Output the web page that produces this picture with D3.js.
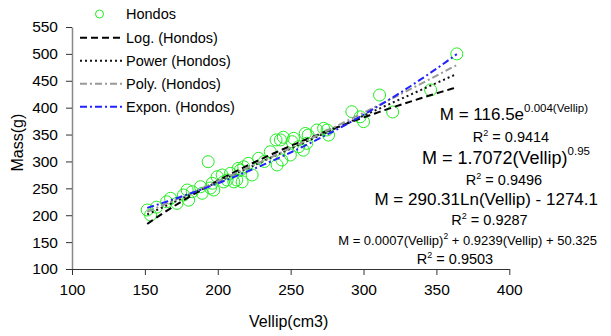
<!DOCTYPE html>
<html>
<head>
<meta charset="utf-8">
<title>Hondos mass vs vellip</title>
<script src="https://d3js.org/d3.v7.min.js"></script>
<style>
    body { margin: 0; background: #fff; }
    svg text { font-family: "Liberation Sans", Arial, sans-serif; fill: #000; }
    .axis text { font-size: 15.5px; }
    .axis .tick line { stroke: #333; }
    .x.axis .domain { stroke: #333; }
    .y.axis .domain { stroke: #888; stroke-width: 1.5px; }
    .pt { fill: none; stroke: #22ee22; stroke-width: 1px; }
    .trend { fill: none; stroke-width: 2px; }
    .log { stroke: #000; stroke-dasharray: 7 4; }
    .power { stroke: #111; stroke-dasharray: 2 3; }
    .poly { stroke: #999; stroke-dasharray: 7 3 2 3; }
    .expon { stroke: #2222ff; stroke-dasharray: 7 3 2 3; }
</style>
</head>
<body>
<script>
    let width = 611;
    let height = 336;
    let margin = { top: 27, right: 102, bottom: 67, left: 72 };

    // measured points (Vellip cm3, Mass g)
    let vellip = [151.6, 153.9, 158, 164.9, 167.6, 172, 176.5, 179, 180, 182.5,
        188.2, 189.3, 193.4, 195, 196.2, 197.3, 199.6, 203, 204, 206.4,
        208.7, 211, 213, 214, 215.5, 216.7, 217.8, 221, 223.6, 228,
        232, 236, 240.7, 240, 243, 244, 245, 249.8, 251, 252,
        255.5, 258.7, 260, 261, 262, 268, 272.6, 275, 276, 292,
        297.7, 300, 311, 320, 346, 364];
    let mass = [209.7, 200.4, 215, 225, 231.5, 222, 237.6, 246.9, 228, 243.7,
        253, 240.8, 299.5, 250.6, 259.4, 246.9, 271.6, 274.8, 262, 265.5,
        278, 262, 265.5, 287, 284, 262, 290, 296.5, 274.8, 305.8,
        300, 318, 293.4, 340, 340, 302.7, 345, 312, 336.7, 343,
        327.4, 321, 352, 333.7, 349, 358.5, 361.6, 358.5, 349, 392.5,
        383, 374, 423.5, 392, 433, 500];

    let xTicks = [100, 150, 200, 250, 300, 350, 400];
    let yTicks = [100, 150, 200, 250, 300, 350, 400, 450, 500, 550];
    let legendNames = ["Hondos", "Log. (Hondos)", "Power (Hondos)", "Poly. (Hondos)", "Expon. (Hondos)"];
    let trendClasses = ["log", "power", "poly", "expon"];

    // trendline coefficients as printed on the chart
    let expCoef = [116.5, 0.004];
    let powCoef = [1.7072, 0.95];
    let logCoef = [290.31, -1274.1];
    let polyCoef = [0.0007, 0.9239, 50.325];
    let rSquared = [0.9414, 0.9496, 0.9287, 0.9503];

    let data = vellip.map((v, i) => ({ v: v, m: mass[i] }));

    let svg = d3.select("body").append("svg")
        .attr("width", width)
        .attr("height", height);

    let x = d3.scaleLinear().domain([100, 400]).range([margin.left, width - margin.right + 0.3]);
    let y = d3.scaleLinear().domain([100, 550]).range([height - margin.bottom, margin.top]);

    // axes
    svg.append("g")
        .attr("class", "y axis")
        .attr("transform", "translate(" + margin.left + ",0)")
        .call(d3.axisLeft(y).tickValues(yTicks).tickSize(6).tickSizeOuter(0).tickPadding(8));

    svg.append("g")
        .attr("class", "x axis")
        .attr("transform", "translate(0," + (height - margin.bottom) + ")")
        .call(d3.axisBottom(x).tickValues(xTicks).tickSize(6).tickSizeOuter(0).tickPadding(9));

    svg.append("text")
        .attr("x", x(250) - 2)
        .attr("y", 327)
        .attr("text-anchor", "middle")
        .style("font-size", "16px")
        .text("Vellip(cm3)");

    svg.append("text")
        .attr("transform", "translate(23," + y(335) + ") rotate(-90)")
        .attr("text-anchor", "middle")
        .style("font-size", "16px")
        .text("Mass(g)");

    // trendlines
    let fns = [
        v => logCoef[0] * Math.log(v) + logCoef[1],
        v => powCoef[0] * Math.pow(v, powCoef[1]),
        v => polyCoef[0] * v * v + polyCoef[1] * v + polyCoef[2],
        v => expCoef[0] * Math.exp(expCoef[1] * v)
    ];
    let ext = d3.extent(vellip);
    let samples = d3.range(ext[0], ext[1] + 0.001, (ext[1] - ext[0]) / 60);

    let line = d3.line().x(d => x(d[0])).y(d => y(d[1]));

    // points
    svg.selectAll("circle.pt")
        .data(data)
        .join("circle")
        .attr("class", "pt")
        .attr("cx", d => x(d.v))
        .attr("cy", d => y(d.m))
        .attr("r", 6);

    fns.forEach((f, i) => {
        svg.append("path")
            .attr("class", "trend " + trendClasses[i])
            .attr("d", line(samples.map(v => [v, f(v)])));
    });

    // legend
    let legend = svg.append("g").style("font-size", "14.5px");
    legend.append("circle")
        .attr("class", "pt")
        .attr("cx", 99.5)
        .attr("cy", 14)
        .attr("r", 4);
    legend.append("text").attr("x", 126).attr("y", 19).text(legendNames[0]);
    trendClasses.forEach((c, i) => {
        legend.append("line")
            .attr("class", "trend " + c)
            .attr("x1", 80).attr("x2", 122)
            .attr("y1", 37.7 + 23 * i).attr("y2", 37.7 + 23 * i);
        legend.append("text")
            .attr("x", 126)
            .attr("y", 42.7 + 23 * i)
            .text(legendNames[i + 1]);
    });

    // equations
    function eq(xp, yp, size, anchor, parts) {
        let t = svg.append("text")
            .attr("x", xp)
            .attr("y", yp)
            .attr("text-anchor", anchor)
            .style("font-size", size + "px");
        parts.forEach(p => {
            let s = t.append("tspan").text(p[0]);
            if (p[1]) s.attr("dy", p[1]);
            if (p[2]) s.style("font-size", p[2] + "px");
        });
    }
    function r2(xp, yp, val) {
        eq(xp, yp, 14.5, "middle", [["R"], ["2", -6, 9], [" = " + val.toFixed(4), 6]]);
    }

    eq(588, 119.5, 17, "end", [["M = " + expCoef[0] + "e"], ["0." + "004(Vellip)", -8, 11.5]]);
    r2(511, 141.7, rSquared[0]);
    eq(590, 164, 18, "end", [["M = " + powCoef[0] + "(Vellip)"], [powCoef[1] + "", -9, 11.5]]);
    r2(504, 185, rSquared[1]);
    eq(598, 205, 17, "end", [["M = " + logCoef[0] + "Ln(Vellip) - " + Math.abs(logCoef[1])]]);
    r2(489.5, 224.5, rSquared[2]);
    eq(597, 244.5, 13, "end", [["M = 0.0007(Vellip)"], ["2", -6, 8.5], [" + " + polyCoef[1] + "(Vellip) + " + polyCoef[2], 6]]);
    r2(455, 263.5, rSquared[3]);
</script>
</body>
</html>
